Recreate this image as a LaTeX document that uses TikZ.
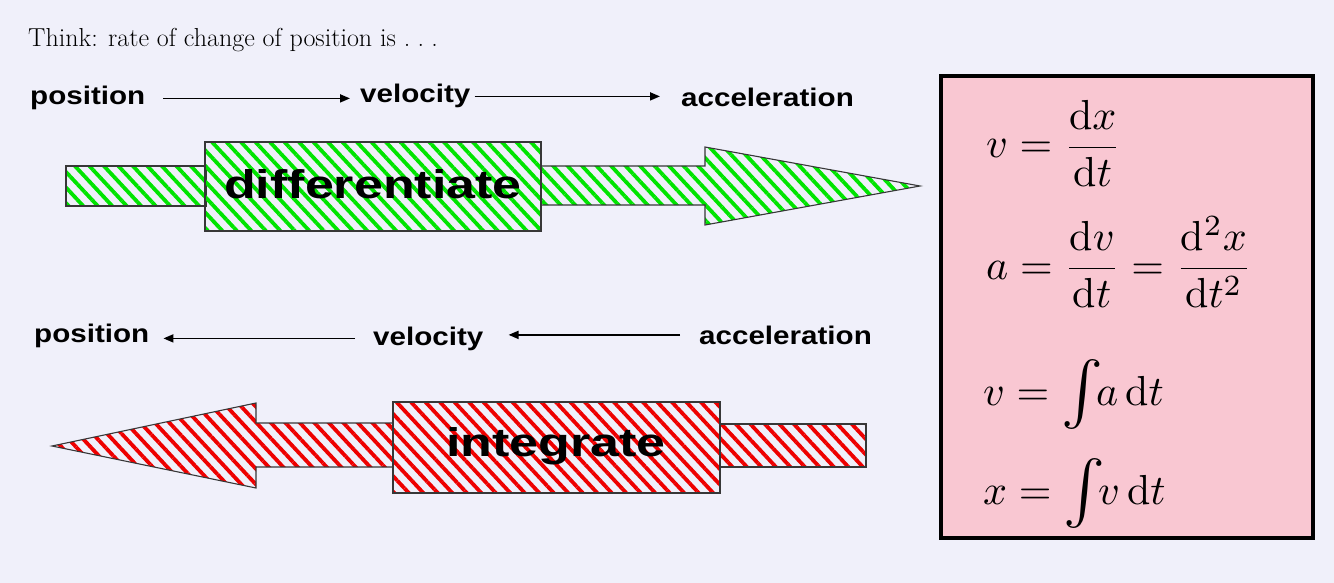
\documentclass[tikz,border=0pt]{standalone}
\usepackage{fontspec}
\usetikzlibrary{patterns.meta,arrows.meta}
\newfontfamily\labfont{Liberation Sans}[FakeStretch=1.16]
\newfontfamily\bigfont{Liberation Sans}[FakeStretch=1.3]
\definecolor{bg}{RGB}{240,240,250}
\definecolor{pinkbox}{RGB}{249,199,210}
\definecolor{hgreen}{RGB}{0,228,0}
\definecolor{hred}{RGB}{238,0,0}
\definecolor{edge}{RGB}{55,55,55}
\newcommand{\bigintsym}{\smash{\vcenter{\hbox{\scalebox{1.5}{$\int$}}}}}
\newcommand{\eqbox}[1]{\scalebox{4.2}{\fontsize{10}{12}\selectfont #1}}
\tikzset{
  lab/.style={inner sep=0pt, anchor=base west, font=\labfont\bfseries\fontsize{25.5}{30}\selectfont},
  arr/.style={line width=1.8pt, -{Triangle[length=10pt,width=8pt]}},
  hatchG/.style={draw=edge, line width=1.1pt, pattern={Lines[angle=-47,distance=10.6pt,line width=3.8pt]}, pattern color=hgreen},
  hatchR/.style={draw=edge, line width=1.1pt, pattern={Lines[angle=-47,distance=10.6pt,line width=3.8pt]}, pattern color=hred},
  bigtxt/.style={font=\bigfont\bfseries\fontsize{40}{44}\selectfont, inner sep=0pt},
  eq/.style={inner sep=0pt, anchor=base west},
}
\begin{document}
\begin{tikzpicture}[x=1pt,y=-1pt]
\fill[bg] (0,0) rectangle (1334,583);
\useasboundingbox (0,0) rectangle (1334,583);

% title
\node[inner sep=0pt, anchor=base west, font=\fontsize{26}{30}\selectfont] (title) at (28,47) {Think: rate of change of position is .\kern0.28em.\kern0.28em.};

% row 1 labels
\node[lab] (pos1) at (30,105) {position};
\node[lab] (vel1) at (360,103) {velocity};
\node[lab] (acc1) at (681,107) {acceleration};
\draw[arr, shorten <=18pt, shorten >=10pt] (pos1.east) -- (pos1.east -| vel1.west);
\draw[arr, shorten <=4pt, shorten >=21pt] (vel1.east) -- (vel1.east -| acc1.west);

% green arrow
\draw[hatchG] (66,166) rectangle (206,206);
\draw[hatchG] (541,166) -- (705,166) -- (705,147) -- (920,186) -- (705,225) -- (705,205) -- (541,205) -- cycle;
\node[hatchG, minimum width=336pt, minimum height=89pt, inner sep=0pt] (diffbox) at (373,186.5) {};
\node[bigtxt] (diff) at (373,184) {differentiate};

% row 2 labels
\node[lab] (pos2) at (34,342) {position};
\node[lab] (vel2) at (373,345) {velocity};
\node[lab] (acc2) at (699,344) {acceleration};
\draw[arr, shorten <=18pt, shorten >=14pt] (vel2.west) -- (vel2.west -| pos2.east);
\draw[arr, shorten <=19pt, shorten >=25pt] (acc2.west) -- (acc2.west -| vel2.east);

% red arrow
\draw[hatchR] (720,424) rectangle (866,467);
\draw[hatchR] (393,423) -- (256,423) -- (256,403) -- (52,446) -- (256,488) -- (256,467) -- (393,467) -- cycle;
\node[hatchR, minimum width=327pt, minimum height=91pt, inner sep=0pt] (intbox) at (556.5,447.5) {};
\node[bigtxt] (integ) at (556,446) {integrate};

% formula box
\node[draw=black, line width=4pt, fill=pinkbox, minimum width=372pt, minimum height=462pt, inner sep=0pt] (fbox) at (1127,307) {};
\node[eq] (eq1) at (986,158) {\eqbox{$\displaystyle v = \frac{\mathrm{d}x}{\mathrm{d}t}$}};
\node[eq] (eq2) at (986,279) {\eqbox{$\displaystyle a = \frac{\mathrm{d}v}{\mathrm{d}t} = \frac{\mathrm{d}^2x}{\mathrm{d}t^2}$}};
\node[eq] (eq3) at (983,405) {\eqbox{$v = \bigintsym\! a\,\mathrm{d}t$}};
\node[eq] (eq4) at (983,504) {\eqbox{$x = \bigintsym\! v\,\mathrm{d}t$}};
\end{tikzpicture}
\end{document}
